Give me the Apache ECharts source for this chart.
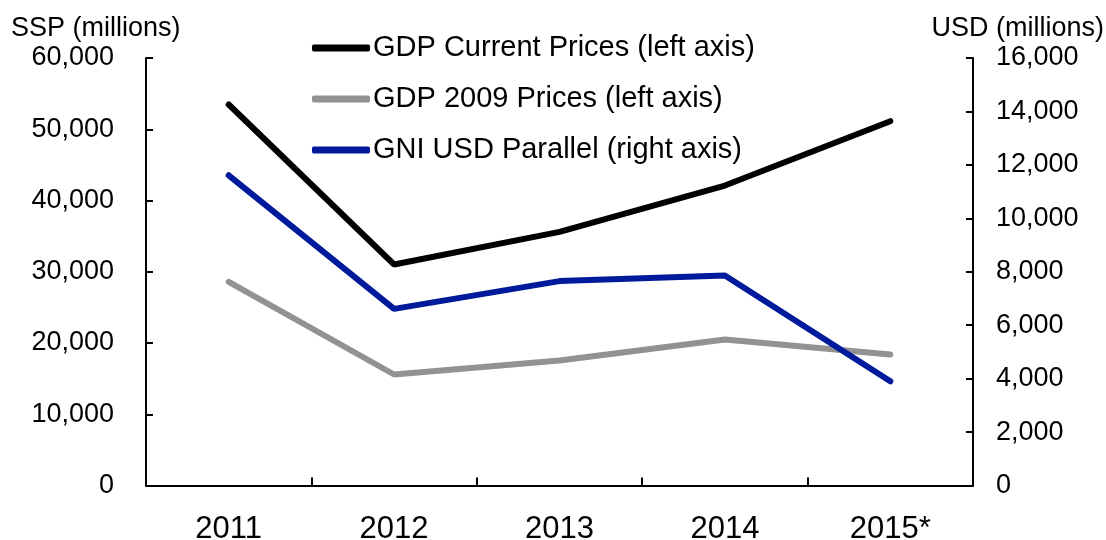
<!DOCTYPE html>
<html>
<head>
<meta charset="utf-8">
<script src="https://cdn.jsdelivr.net/npm/echarts@6/dist/echarts.min.js"></script>
<style>html,body{margin:0;padding:0;background:#fff}#c{width:1106px;height:540px}</style>
</head>
<body>
<div id="c"></div>
<script>
const categories = ['2011', '2012', '2013', '2014', '2015*'];
const gdpCurrent = [53470, 31020, 35600, 42100, 51130];
const gdp2009 = [28590, 15580, 17540, 20490, 18390];
const gniUsd = [11610, 6610, 7650, 7860, 3900];
const seriesNames = ['GDP Current Prices (left axis)', 'GDP 2009 Prices (left axis)', 'GNI USD Parallel (right axis)'];
const leftAxisName = 'SSP (millions)';
const rightAxisName = 'USD (millions)';

const FONT = "'Liberation Sans', Arial, sans-serif";
const fmt = v => v.toLocaleString('en-US');
const chart = echarts.init(document.getElementById('c'), null, {renderer: 'canvas'});
const axisLine = {show: true, lineStyle: {color: '#000', width: 2}};
chart.setOption({
  animation: false,
  backgroundColor: '#fff',
  textStyle: {fontFamily: FONT},
  grid: {left: 146, right: 133, top: 58, bottom: 54.5, containLabel: false, outerBoundsMode: 'none'},
  legend: {
    orient: 'vertical', left: 307, top: 28, itemWidth: 58, itemHeight: 7, itemGap: 21,
    icon: 'roundRect',
    textStyle: {fontFamily: FONT, fontSize: 29, color: '#000', lineHeight: 30, padding: [0, 0, 0, -2]},
    data: seriesNames
  },
  graphic: [
    {type: 'text', left: 11, top: 15, style: {text: leftAxisName, font: '27px ' + FONT, fill: '#000'}},
    {type: 'text', right: 2, top: 15, style: {text: rightAxisName, font: '27px ' + FONT, fill: '#000'}}
  ],
  xAxis: {
    type: 'category', data: categories, boundaryGap: true,
    axisLine: axisLine,
    axisTick: {show: true, inside: true, length: 8, lineStyle: {color: '#000', width: 2}},
    axisLabel: {fontFamily: FONT, fontSize: 31, color: '#000', margin: 28},
    splitLine: {show: false}
  },
  yAxis: [
    {
      type: 'value', position: 'left', min: 0, max: 60000, interval: 10000,
      axisLine: axisLine,
      axisTick: {show: true, inside: true, length: 7, lineStyle: {color: '#000', width: 2}},
      axisLabel: {fontFamily: FONT, fontSize: 27, color: '#000', margin: 32, formatter: fmt},
      splitLine: {show: false}
    },
    {
      type: 'value', position: 'right', min: 0, max: 16000, interval: 2000,
      axisLine: axisLine,
      axisTick: {show: true, inside: true, length: 7, lineStyle: {color: '#000', width: 2}},
      axisLabel: {fontFamily: FONT, fontSize: 27, color: '#000', margin: 23, formatter: fmt},
      splitLine: {show: false}
    }
  ],
  series: [
    {name: seriesNames[0], type: 'line', yAxisIndex: 0, data: gdpCurrent, showSymbol: false, symbol: 'none',
     itemStyle: {color: '#000000'}, lineStyle: {color: '#000000', width: 6, cap: 'round'}},
    {name: seriesNames[1], type: 'line', yAxisIndex: 0, data: gdp2009, showSymbol: false, symbol: 'none',
     itemStyle: {color: '#929292'}, lineStyle: {color: '#929292', width: 6, cap: 'round'}},
    {name: seriesNames[2], type: 'line', yAxisIndex: 1, data: gniUsd, showSymbol: false, symbol: 'none',
     itemStyle: {color: '#001A9C'}, lineStyle: {color: '#001A9C', width: 6, cap: 'round'}}
  ]
});
</script>
</body>
</html>
